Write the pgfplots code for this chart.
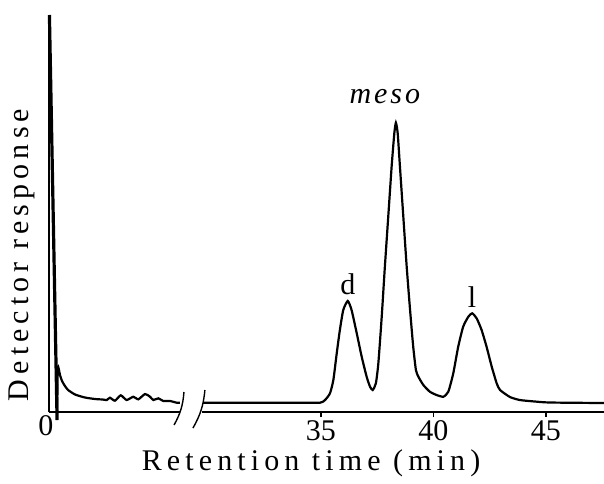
\documentclass[border=0pt]{standalone}
\usepackage{pgfplots}
\pgfplotsset{compat=1.18}
\usepackage{fontspec}
\setmainfont{Liberation Serif}
\newfontfamily\spaced[LetterSpace=17]{Liberation Serif}
\newfontfamily\mesofont[LetterSpace=10]{Liberation Serif}
\newcommand\lbl{\fontsize{15}{18}\selectfont}

% break-axis trick: left part (0 ... few min) is compressed into u = 22.9 ... 28.8,
% right part uses the real retention time in min
\pgfplotstableread{
u y
23.28 0
23.30 45
23.40 37
23.49 31
23.62 26
23.76 22
24.07 17.5
24.51 14.5
24.96 13
25.30 12.5
25.48 12
25.62 14.3
25.84 11.3
26.10 16.7
26.36 12
26.66 15.3
26.88 12.7
27.18 18
27.40 15.3
27.55 12
27.77 13.7
27.99 11
28.29 11
28.59 9.3
28.73 9.3
}\early

\pgfplotstableread{
u y
29.76 9.3
34.07 9.3
34.96 9.3
35.18 12
35.40 18.7
35.55 32
35.70 58.7
35.84 82
35.99 102
36.19 111
36.36 102
36.59 78.7
36.81 55.3
37.03 35.3
37.18 25.3
37.30 22
37.44 28.7
37.55 48.7
37.70 95.3
37.84 145.3
37.99 195.3
38.14 245.3
38.26 278.7
38.33 289.3
38.41 278.7
38.51 245.3
38.66 195.3
38.81 145.3
38.96 102
39.10 65.3
39.22 42
39.33 35.3
39.55 27
39.84 20.3
40.14 17
40.44 15.3
40.66 20.3
40.88 38.7
41.10 65.3
41.32 85.3
41.55 95.3
41.72 98.7
41.92 93.7
42.14 82
42.36 65.3
42.59 45.3
42.81 28.7
42.96 22
43.40 15
43.84 12
44.51 10.5
45.18 9.5
47.58 9
}\late

\begin{document}
\begin{tikzpicture}
\begin{axis}[
  width=277.5pt, height=200pt, scale only axis,
  xmin=22.91, xmax=47.58, ymin=0, ymax=400,
  clip=false,
  axis line style={draw=none},
  ytick=\empty,
  xtick={35,40,45},
  xtick pos=bottom,
  tick align=outside,
  major tick length=2.5pt,
  tick style={black, line width=0.6pt},
  extra x ticks={22.91},
  extra x tick labels={0},
  extra x tick style={major tick length=0pt, xticklabel style={xshift=-1.5pt}},
  tick label style={font=\lbl, inner sep=1.5pt},
  /pgf/number format/assume math mode=true,
]
% axes drawn by hand because of the break
\draw[line width=0.8pt] (axis cs:22.91,0) -- (axis cs:28.75,0);
\draw[line width=0.8pt] (axis cs:29.71,0) -- (axis cs:47.58,0);
\draw[line width=0.6pt] (axis cs:22.91,0) -- (axis cs:22.91,397);
\draw[line width=0.7pt] (axis cs:28.91,20) to[bend left=12] (axis cs:28.47,-13);
\draw[line width=0.7pt] (axis cs:29.84,22) to[bend left=12] (axis cs:29.31,-16);

% solvent front
\addplot[black, line width=1.6pt] coordinates {(22.93,397) (23.27,-8)};
\addplot[black, line width=1.1pt, smooth, tension=0.35] table[x=u, y=y] {\early};
\addplot[black, line width=1.1pt, smooth, tension=0.35] table[x=u, y=y] {\late};

\node[font=\lbl] at (axis cs:36.19,128) {d};
\node[font=\lbl] at (axis cs:41.72,115) {l};
\node[font=\lbl\mesofont\itshape] at (axis cs:37.84,315) {meso};
\node[font=\lbl\spaced] at (axis cs:34.56,-51) {Retention time (min)};
\node[font=\lbl\spaced, rotate=90] at (axis cs:21.71,157) {Detector response};

\coordinate (bl) at (axis cs:20.733,-71);
\coordinate (tr) at (axis cs:47.58,412);
\end{axis}
\pgfresetboundingbox
\useasboundingbox (bl) rectangle (tr);
\end{tikzpicture}
\end{document}
